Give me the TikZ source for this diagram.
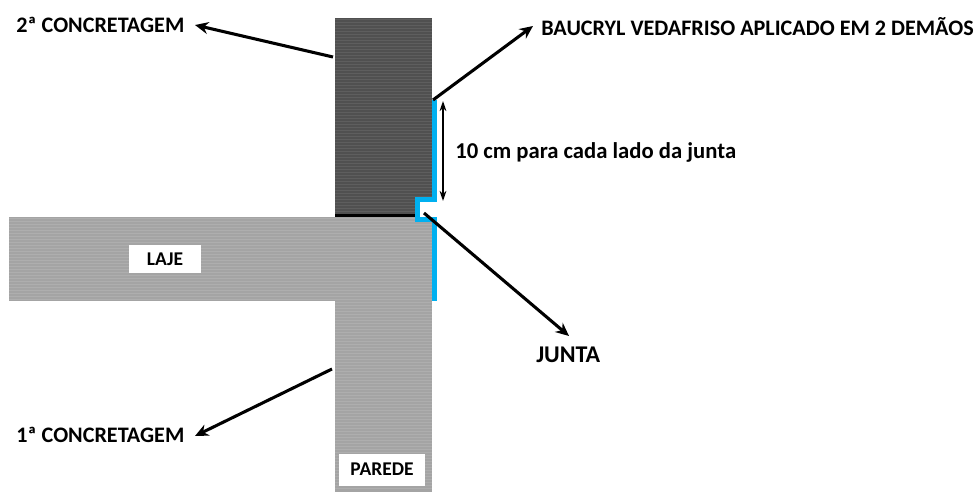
\documentclass[tikz,border=0pt]{standalone}
\usepackage{fontspec}
\setmainfont{Carlito}
\usetikzlibrary{arrows.meta}
\definecolor{darkconc}{HTML}{505050}
\definecolor{darkline}{HTML}{5E5E5E}
\definecolor{lightconc}{HTML}{A4A4A4}
\definecolor{lightline}{HTML}{AEAEAE}
\definecolor{seal}{HTML}{00B0F0}
\tikzset{
  lbl/.style={font=\bfseries\fontsize{16.6pt}{19pt}\selectfont,text=black,inner sep=0pt},
  dimlbl/.style={font=\bfseries\fontsize{17pt}{20pt}\selectfont,text=black,inner sep=0pt},
  junlbl/.style={font=\bfseries\fontsize{18pt}{20pt}\selectfont,text=black,inner sep=0pt},
  tag/.style={fill=white,font=\bfseries\fontsize{14.6pt}{17pt}\selectfont,inner sep=0pt,text=black},
  arr/.style={draw=black,line width=2.3pt,-{Stealth[length=10pt,width=9pt]}},
  dbl/.style={draw=black,line width=1.3pt,{Stealth[length=7.5pt,width=5pt]}-{Stealth[length=7.5pt,width=5pt]}},
  sealline/.style={draw=seal,line width=3.6pt,line cap=butt,line join=miter}
}
\begin{document}
\begin{tikzpicture}[x=0.75pt,y=-0.75pt]
\useasboundingbox (0,0) rectangle (976,492);
% concrete
\fill[darkconc] (335,18) rectangle (432,215);
\foreach \y in {19.5,22.5,...,213} \draw[darkline,line width=0.9pt] (335,\y) -- (432,\y);
\fill[lightconc] (9,217) rectangle (432,301);
\fill[lightconc] (335,301) rectangle (432,492);
\foreach \y in {218.5,221.5,...,300} \draw[lightline,line width=0.9pt] (9,\y) -- (432,\y);
\foreach \y in {302.5,305.5,...,491} \draw[lightline,line width=0.9pt] (335,\y) -- (432,\y);
% joint
\draw[black,line width=1.8pt] (335,215.5) -- (416,215.5);
\fill[white] (420,202) rectangle (437,217);
\draw[sealline] (434.5,100) -- (434.5,199.5) -- (417.5,199.5) -- (417.5,219.5) -- (434.5,219.5) -- (434.5,301);
% labels
\node[tag,minimum width=54pt,minimum height=21pt] (laje) at (165,259) {LAJE};
\node[tag,minimum width=64pt,minimum height=24pt] (parede) at (382,469.5) {PAREDE};
\node[lbl,anchor=west] (seg) at (16,25) {2ª CONCRETAGEM};
\node[lbl,anchor=west] (pri) at (16,435) {1ª CONCRETAGEM};
\node[lbl,anchor=west] (bau) at (541,27) {BAUCRYL VEDAFRISO APLICADO EM 2 DEMÃOS};
\node[dimlbl,anchor=west] (dim) at (455,152) {10 cm para cada lado da junta};
\node[junlbl,anchor=west] (jun) at (536,355) {JUNTA};
% connector ends
\coordinate (a1) at (333,57);
\coordinate (a1e) at (195,25);
\coordinate (a2) at (433,100);
\coordinate (a2e) at (533,26);
\coordinate (a3) at (424,213);
\coordinate (a3e) at (569,336);
\coordinate (a4) at (332,369);
\coordinate (a4e) at (195,436);
\coordinate (d1) at (443,101);
\coordinate (d2) at (443,201);
\draw[arr] (a1) -- (a1e);
\draw[arr] (a2) -- (a2e);
\draw[arr] (a3) -- (a3e);
\draw[arr] (a4) -- (a4e);
\draw[dbl] (d1) -- (d2);
\end{tikzpicture}
\end{document}
